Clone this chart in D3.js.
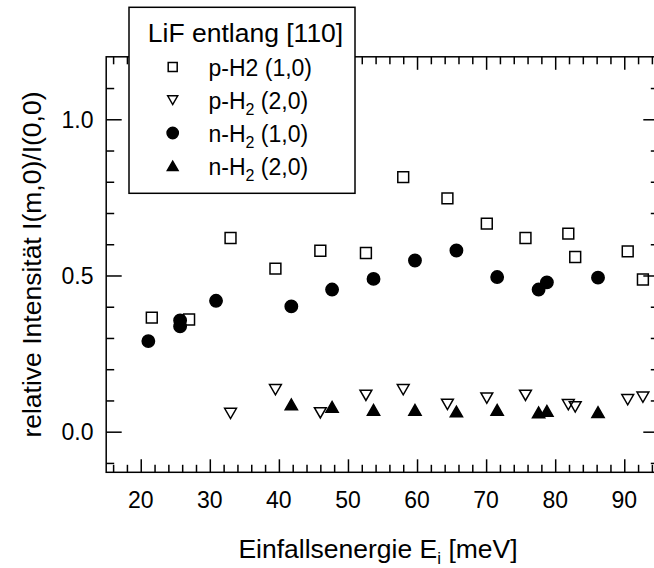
<!DOCTYPE html>
<html>
<head>
<meta charset="utf-8">
<script src="https://cdn.jsdelivr.net/npm/d3@7"></script>
<style>
  html, body { margin: 0; padding: 0; background: #fff; }
  svg { display: block; font-family: "Liberation Sans", Arial, Helvetica, sans-serif; }
</style>
</head>
<body>
<div id="chart"></div>
<script>
// p-H2 (1,0)
const pH2_10_E = [21.6, 27.0, 33.0, 39.5, 46.0, 52.6, 58.0, 64.4, 70.1, 75.7, 81.9, 82.9, 90.5, 92.7];
const pH2_10_I = [0.365, 0.359, 0.620, 0.522, 0.579, 0.572, 0.815, 0.747, 0.666, 0.620, 0.634, 0.559, 0.577, 0.487];
// p-H2 (2,0)
const pH2_20_E = [33.0, 39.5, 46.0, 52.6, 58.0, 64.4, 70.1, 75.7, 81.9, 82.9, 90.5, 92.7];
const pH2_20_I = [0.059, 0.135, 0.061, 0.117, 0.135, 0.088, 0.108, 0.117, 0.087, 0.080, 0.103, 0.111];
// n-H2 (1,0)
const nH2_10_E = [21.1, 25.7, 25.7, 30.9, 41.8, 47.7, 53.7, 59.7, 65.7, 71.6, 77.6, 78.8, 86.2];
const nH2_10_I = [0.290, 0.356, 0.337, 0.419, 0.401, 0.455, 0.489, 0.548, 0.580, 0.495, 0.455, 0.478, 0.493];
// n-H2 (2,0)
const nH2_20_E = [41.8, 47.7, 53.7, 59.7, 65.7, 71.6, 77.6, 78.8, 86.2];
const nH2_20_I = [0.087, 0.079, 0.069, 0.069, 0.064, 0.069, 0.061, 0.066, 0.062];

const xMajor = [20, 30, 40, 50, 60, 70, 80, 90];
const xMinor = d3.range(16, 95, 2).filter(v => v % 10 !== 0);
const yMajor = [0, 0.5, 1.0];
const yMinor = [-0.1, 0.1, 0.2, 0.3, 0.4, 0.6, 0.7, 0.8, 0.9, 1.1];

const legendTitle = 'LiF entlang [110]';

const width = 654, height = 568;
const plotL = 106.2, plotR = 658.8, plotT = 56.8, plotB = 472.3;

const x = d3.scaleLinear().domain([15, 95]).range([plotL, plotR]);
const y = d3.scaleLinear().domain([-0.13, 1.2]).range([plotB, plotT]);

const svg = d3.select('#chart').append('svg')
  .attr('width', width)
  .attr('height', height);

// marker shapes, centred on the box centre like the original
const triDown = {
  draw(ctx, size) {
    const w = Math.sqrt(size);
    ctx.moveTo(-w / 2, -w * 0.42);
    ctx.lineTo(w / 2, -w * 0.42);
    ctx.lineTo(0, w * 0.45);
    ctx.closePath();
  }
};
const triUp = {
  draw(ctx, size) {
    const w = Math.sqrt(size);
    ctx.moveTo(-w / 2, w * 0.42);
    ctx.lineTo(w / 2, w * 0.42);
    ctx.lineTo(0, -w * 0.45);
    ctx.closePath();
  }
};

const series = [
  { E: nH2_10_E, I: nH2_10_I, type: d3.symbolCircle, size: 120, fill: '#000' },
  { E: nH2_20_E, I: nH2_20_I, type: triUp, size: 150, fill: '#000' },
  { E: pH2_20_E, I: pH2_20_I, type: triDown, size: 140, fill: 'none' },
  { E: pH2_10_E, I: pH2_10_I, type: d3.symbolSquare, size: 118, fill: 'none' }
];

// ticks, all pointing inward
const tickG = svg.append('g');

tickG.append('g')
  .attr('transform', `translate(0,${plotB})`)
  .call(d3.axisBottom(x).tickValues(xMajor).tickSize(-13).tickFormat(''));
tickG.append('g')
  .attr('transform', `translate(0,${plotB})`)
  .call(d3.axisBottom(x).tickValues(xMinor).tickSize(-7.5).tickFormat(''));
tickG.append('g')
  .attr('transform', `translate(0,${plotT})`)
  .call(d3.axisTop(x).tickValues(xMajor).tickSize(-13).tickFormat(''));
tickG.append('g')
  .attr('transform', `translate(0,${plotT})`)
  .call(d3.axisTop(x).tickValues(xMinor).tickSize(-7.5).tickFormat(''));
tickG.append('g')
  .attr('transform', `translate(${plotL},0)`)
  .call(d3.axisLeft(y).tickValues(yMajor).tickSize(-15.5).tickFormat(''));
tickG.append('g')
  .attr('transform', `translate(${plotL},0)`)
  .call(d3.axisLeft(y).tickValues(yMinor).tickSize(-8).tickFormat(''));
tickG.append('g')
  .attr('transform', `translate(${plotR},0)`)
  .call(d3.axisRight(y).tickValues(yMajor).tickSize(-15.5).tickFormat(''));
tickG.append('g')
  .attr('transform', `translate(${plotR},0)`)
  .call(d3.axisRight(y).tickValues(yMinor).tickSize(-8).tickFormat(''));

tickG.selectAll('.domain').remove();
tickG.selectAll('line').attr('stroke', '#000').attr('stroke-width', 1.5);

// frame
svg.append('rect')
  .attr('x', plotL).attr('y', plotT)
  .attr('width', plotR - plotL).attr('height', plotB - plotT)
  .attr('fill', 'none')
  .attr('stroke', '#000')
  .attr('stroke-width', 1.5);

// tick labels
svg.append('g')
  .selectAll('text')
  .data(xMajor)
  .join('text')
  .attr('x', d => x(d))
  .attr('y', 508)
  .attr('text-anchor', 'middle')
  .attr('font-size', 23)
  .text(d => d);

svg.append('g')
  .selectAll('text')
  .data(yMajor)
  .join('text')
  .attr('x', 93.5)
  .attr('y', d => y(d))
  .attr('dy', '0.36em')
  .attr('text-anchor', 'end')
  .attr('font-size', 23)
  .text(d3.format('.1f'));

// axis titles
const xt = svg.append('text')
  .attr('x', 378)
  .attr('y', 558)
  .attr('text-anchor', 'middle')
  .attr('font-size', 26.5);
xt.append('tspan').text('Einfallsenergie E');
xt.append('tspan').attr('font-size', 17).attr('dy', 6).text('i');
xt.append('tspan').attr('dy', -6).text(' [meV]');

svg.append('text')
  .attr('transform', `translate(41,${(plotT + plotB) / 2}) rotate(-90)`)
  .attr('text-anchor', 'middle')
  .attr('font-size', 26.5)
  .text('relative Intensität I(m,0)/I(0,0)');

// data markers
series.forEach(s => {
  svg.append('g')
    .selectAll('path')
    .data(s.E.map((e, i) => [e, s.I[i]]))
    .join('path')
    .attr('transform', d => `translate(${x(d[0])},${y(d[1])})`)
    .attr('d', d3.symbol().type(s.type).size(s.size))
    .attr('fill', s.fill)
    .attr('stroke', '#000')
    .attr('stroke-width', 1.5);
});

// legend
const legend = svg.append('g');
legend.append('rect')
  .attr('x', 129).attr('y', 7.3)
  .attr('width', 226).attr('height', 186)
  .attr('fill', '#fff')
  .attr('stroke', '#000')
  .attr('stroke-width', 1.5);

legend.append('text')
  .attr('x', 245.5)
  .attr('y', 41.7)
  .attr('text-anchor', 'middle')
  .attr('font-size', 26.5)
  .text(legendTitle);

const legendRows = [
  { type: d3.symbolSquare, size: 81, fill: 'none', name: 'p-H', sub: null, tail: 'p-H2 (1,0)' },
  { type: triDown, size: 100, fill: 'none', name: 'p-H', sub: '2', tail: ' (2,0)' },
  { type: d3.symbolCircle, size: 100, fill: '#000', name: 'n-H', sub: '2', tail: ' (1,0)' },
  { type: triUp, size: 115, fill: '#000', name: 'n-H', sub: '2', tail: ' (2,0)' }
];

legendRows.forEach((r, i) => {
  const cy = 67 + i * 33;
  legend.append('path')
    .attr('transform', `translate(172.7,${cy})`)
    .attr('d', d3.symbol().type(r.type).size(r.size))
    .attr('fill', r.fill)
    .attr('stroke', '#000')
    .attr('stroke-width', 1.5);
  const t = legend.append('text')
    .attr('x', 208.5)
    .attr('y', cy + 9)
    .attr('font-size', 23);
  if (r.sub === null) {
    t.text(r.tail);
  } else {
    t.append('tspan').text(r.name);
    t.append('tspan').attr('font-size', 16).attr('dy', 6).text(r.sub);
    t.append('tspan').attr('dy', -6).text(r.tail);
  }
});
</script>
</body>
</html>
